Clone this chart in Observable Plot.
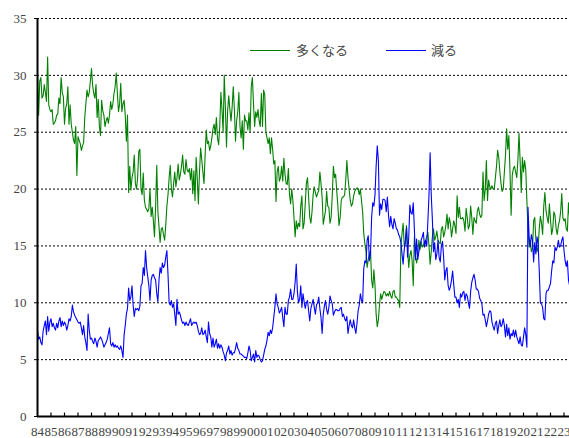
<!DOCTYPE html>
<html><head><meta charset="utf-8">
<script src="https://cdn.jsdelivr.net/npm/d3@7"></script>
<script src="https://cdn.jsdelivr.net/npm/@observablehq/plot@0.6"></script>
<style>
html,body{margin:0;padding:0;background:#fff;overflow:hidden;}
#wrap{position:relative;width:569px;height:438px;overflow:hidden;}
.leg{position:absolute;font-family:"Noto Sans CJK JP","Noto Sans",sans-serif;font-size:13px;color:#444;line-height:13px;white-space:nowrap;}
.sw{position:absolute;width:40px;height:0;border-top:1.4px solid;}
</style></head><body><div id="wrap"></div>
<script>
// monthly series starting January 1984
const seriesNames = ["多くなる", "減る"];
const seriesColors = ["#008000", "#0000ff"];
const yearLabels = ["84","85","86","87","88","89","90","91","92","93","94","95","96","97","98","99","00","01","02","03","04","05","06","07","08","09","10","11","12","13","14","15","16","17","18","19","20","21","22","23"];
const yTicks = [0, 5, 10, 15, 20, 25, 30, 35];

const increase = [
30.2,26.5,29.5,29.8,28.0,28.2,29.2,28.5,27.7,31.6,27.4,27.0,
26.8,27.0,25.7,25.8,26.0,26.5,26.6,28.0,27.5,29.8,28.5,28.1,
25.7,27.1,27.5,29.0,25.7,27.4,25.7,25.0,24.3,24.0,25.5,21.2,
24.6,24.3,24.0,23.4,23.8,24.1,26.3,27.5,28.7,28.1,28.5,29.5,
30.6,29.1,28.4,28.0,29.2,26.3,27.9,25.5,24.7,27.8,26.9,26.5,
25.5,26.0,26.3,25.8,26.5,27.7,27.0,27.5,28.4,29.0,30.2,28.4,
26.8,27.5,29.3,26.8,27.5,27.8,26.5,24.2,26.5,19.7,22.0,19.9,
21.0,21.5,23.0,20.5,20.0,21.0,23.3,23.5,20.0,19.5,21.4,19.0,
18.4,18.2,18.0,18.3,20.0,17.6,18.4,17.2,15.8,18.5,22.1,18.0,
16.7,15.3,16.5,16.6,16.0,15.5,16.8,18.5,19.5,21.0,22.1,20.0,
19.3,20.5,21.5,20.2,21.0,22.2,20.8,21.3,22.0,23.0,21.5,21.3,
22.6,21.7,21.5,21.8,20.8,21.8,19.6,21.6,19.0,22.8,21.0,18.7,
21.5,23.6,22.6,21.5,20.5,23.0,25.2,24.0,24.2,23.4,23.8,24.5,
25.3,25.7,24.8,26.3,24.5,23.9,25.5,28.5,27.0,25.0,30.0,27.2,
23.7,26.9,28.2,27.0,26.0,27.2,29.0,27.0,24.2,26.0,26.8,28.5,
25.5,24.5,26.0,23.5,26.5,26.0,26.0,25.2,26.7,25.0,29.0,29.8,
27.5,25.5,26.8,26.3,27.0,26.0,25.5,28.4,25.5,28.7,28.3,25.0,
24.5,24.0,24.5,23.1,24.5,23.5,22.2,22.5,18.9,21.5,22.0,20.7,
21.0,22.0,20.7,22.7,21.3,20.5,20.4,21.8,19.5,18.7,20.0,19.0,
17.5,15.8,17.2,16.5,17.0,16.7,18.5,19.4,16.5,17.0,18.7,20.5,
21.0,19.3,17.5,17.0,18.0,19.5,20.2,19.7,19.3,19.6,19.9,21.5,
20.5,19.3,16.9,17.5,18.1,19.8,18.5,18.4,17.0,17.5,19.4,22.0,
21.0,21.3,19.8,18.5,16.8,17.5,19.0,19.3,19.3,19.5,20.8,22.5,
21.0,20.0,19.0,18.5,18.7,19.4,19.8,20.0,20.1,20.0,19.5,20.0,
19.0,18.0,16.1,15.2,14.5,13.1,13.8,14.3,14.6,12.0,11.3,12.9,
11.5,9.0,7.9,8.5,9.8,10.8,10.3,10.7,11.0,10.9,10.6,10.8,
10.6,11.0,10.6,10.4,11.0,11.1,10.5,10.5,10.3,10.2,9.6,14.9,
16.1,17.0,15.0,15.2,16.8,14.7,13.1,14.2,14.6,13.7,11.5,15.8,
14.0,13.5,14.3,15.5,14.7,15.4,14.9,15.0,15.4,15.5,15.8,16.2,
15.0,13.4,14.5,15.8,16.5,15.5,15.8,16.3,15.5,15.3,15.2,16.5,
16.7,15.8,16.2,16.8,17.8,16.5,17.5,17.0,15.8,16.5,17.2,16.8,
16.1,19.4,17.5,18.4,17.4,17.4,17.5,17.2,16.3,18.3,17.5,16.5,
16.8,18.5,17.5,16.0,17.5,17.2,17.0,18.1,18.4,17.8,17.5,17.7,
21.5,19.0,20.0,22.5,19.0,20.8,20.2,20.0,20.3,20.0,20.0,21.0,
22.0,23.4,22.8,21.5,20.5,19.8,20.0,21.5,23.0,25.3,23.5,24.7,
21.5,17.7,21.2,21.8,22.0,21.5,21.0,22.5,24.9,22.5,19.7,22.8,
21.5,22.5,21.7,19.0,16.4,14.9,15.5,14.5,14.8,17.2,17.5,15.5,
14.5,14.9,16.5,17.6,17.0,16.0,18.5,19.7,18.1,17.5,17.0,18.7,
17.3,16.0,16.5,18.0,17.7,16.5,16.0,16.8,17.2,18.0,19.6,17.5,
17.2,17.4,16.5,16.3,18.8,17.5
];

const decrease = [
7.6,6.8,7.0,6.5,6.3,7.5,8.0,8.4,7.2,8.8,7.5,8.3,
8.6,7.9,8.2,7.8,7.6,8.2,7.8,8.4,8.7,7.9,8.4,8.0,
8.3,8.1,7.6,8.0,8.6,8.4,8.8,9.8,9.2,8.9,8.7,8.5,
8.3,8.2,8.3,7.8,7.2,8.0,7.0,6.5,5.8,9.0,7.6,6.8,
6.9,6.6,6.4,6.9,6.6,6.1,6.7,6.8,7.0,6.8,6.5,6.1,
6.3,6.5,6.8,7.3,7.8,6.4,6.2,6.5,6.1,6.3,6.1,6.2,
6.0,5.9,6.2,5.8,5.2,7.2,8.0,9.0,9.5,11.3,10.2,10.5,
11.5,9.8,8.8,9.5,9.4,9.5,9.3,9.7,11.5,11.7,13.1,12.4,
14.6,13.1,12.3,11.5,10.2,12.0,12.4,12.5,12.2,12.0,10.8,10.1,
12.0,13.1,12.6,13.5,13.1,13.3,14.0,14.6,12.5,10.0,9.8,10.2,
9.6,9.9,9.0,8.0,10.3,9.0,9.2,8.9,8.5,8.2,8.3,8.0,
8.3,8.1,8.0,8.3,8.6,8.0,8.2,8.3,8.2,8.3,8.0,7.5,
7.2,7.3,7.8,7.2,7.3,7.6,7.0,6.5,8.3,7.3,7.0,6.1,
6.9,6.1,6.4,6.8,6.0,6.4,6.0,6.3,6.1,5.7,5.4,4.9,
5.6,5.8,6.2,5.5,5.8,5.4,5.6,5.6,6.0,6.5,6.0,5.8,
5.5,5.5,5.4,5.3,5.2,5.2,5.1,5.6,6.2,5.8,4.9,5.2,
5.5,4.8,5.8,5.2,5.4,5.3,5.0,4.8,4.9,5.4,5.9,6.2,
6.7,7.4,7.1,7.6,7.3,7.8,8.7,9.6,10.8,9.9,9.6,9.1,
9.3,9.6,8.7,7.9,9.6,9.0,9.0,10.2,10.5,11.2,10.3,10.3,
10.8,11.8,13.4,11.0,10.0,10.3,11.5,9.6,10.8,10.1,9.5,10.0,
10.2,9.3,8.4,9.5,9.9,10.3,9.6,9.0,9.8,10.0,10.5,9.5,
8.7,7.3,9.0,9.7,10.2,9.4,9.0,9.6,10.6,10.2,9.9,8.9,
9.2,9.4,9.4,9.3,9.3,9.5,9.6,8.8,9.0,8.6,8.4,8.8,
7.3,8.0,8.5,8.0,7.8,8.5,7.8,7.3,8.2,9.3,9.8,10.8,
10.2,10.0,13.0,13.7,13.5,15.5,15.9,13.7,14.3,17.5,18.8,18.5,
19.5,22.0,23.8,22.5,17.7,18.7,18.2,19.1,19.1,19.0,18.0,19.3,
17.7,16.7,17.6,16.9,16.5,17.4,17.0,16.5,16.4,16.0,15.8,15.3,
14.3,13.4,14.7,15.5,16.6,14.0,15.8,18.6,17.9,17.8,18.8,16.5,
13.8,15.6,13.8,14.5,15.0,15.5,15.8,16.2,14.9,15.5,15.0,17.2,
19.5,23.2,19.5,17.3,14.5,15.3,13.8,14.3,15.5,14.0,13.6,15.0,
15.4,14.0,12.0,12.8,13.1,11.5,11.1,11.4,12.0,12.8,11.6,10.5,
10.5,10.0,10.3,9.6,10.8,10.5,10.9,11.0,10.2,10.8,10.6,10.0,
9.5,11.0,11.8,12.2,12.5,12.0,11.2,11.2,11.0,10.4,10.2,9.9,
8.9,9.0,8.5,7.9,8.4,9.0,9.3,9.2,8.3,7.9,7.6,8.2,
8.4,7.3,8.0,8.5,7.9,8.1,8.6,8.0,7.0,8.1,7.1,7.8,
6.8,7.3,7.1,7.6,7.0,7.6,7.0,6.7,6.4,7.0,6.3,6.2,
7.0,7.8,7.2,6.1,18.4,15.8,14.9,16.0,15.5,13.6,15.3,14.3,
15.8,15.2,12.8,10.0,9.9,9.6,8.6,8.5,10.8,11.1,11.1,11.4,
11.7,12.8,13.7,13.5,14.9,14.6,14.9,15.5,14.9,15.0,15.5,15.8,
14.6,13.7,13.2,13.7,12.0,11.5
];

const rowsInc = increase.map((v, i) => ({m: i, v}));
const rowsDec = decrease.map((v, i) => ({m: i, v}));
const yearTicks = yearLabels.map((_, i) => i * 12);

const chart = Plot.plot({
  width: 569,
  height: 438,
  marginLeft: 37,
  marginRight: 0,
  marginTop: 18,
  marginBottom: 22,
  style: {fontFamily: '"Liberation Serif", "DejaVu Serif", serif', fontSize: "13px", color: "#444", background: "#fff"},
  x: {domain: [0, 480], range: [37, 577], axis: null, label: null},
  y: {domain: [0, 35], range: [416, 18], axis: null, label: null},
  marks: [
    Plot.ruleY(yTicks.filter(d => d > 0), {x1: 0, x2: 480, stroke: "#000", strokeWidth: 1, strokeDasharray: "2,2"}),
    Plot.axisY(yTicks, {tickSize: 3, tickPadding: 8, stroke: "#000", fill: "#444", fontSize: 13, label: null}),
    Plot.line(rowsInc, {x: "m", y: "v", stroke: seriesColors[0], strokeWidth: 1.1}),
    Plot.line(rowsDec, {x: "m", y: "v", stroke: seriesColors[1], strokeWidth: 1.1}),
    Plot.ruleX(yearTicks.slice(1), {y1: 0, y2: 0.3, stroke: "#000", strokeWidth: 1.2}),
    Plot.ruleX([0], {y1: 0, y2: 35, stroke: "#000", strokeWidth: 2}),
    Plot.ruleY([0], {x1: 0, x2: 480, stroke: "#000", strokeWidth: 2.2}),
    Plot.axisX(yearTicks, {tickSize: 0, tickPadding: 10, fill: "#444", fontSize: 13, label: null, tickFormat: d => yearLabels[d / 12]})
  ]
});

const wrap = document.getElementById("wrap");
wrap.appendChild(chart);

// legend (inside the plot area)
const legendPos = [{sx: 250, tx: 296}, {sx: 386, tx: 431}];
seriesNames.forEach((name, i) => {
  const sw = document.createElement("div");
  sw.className = "sw";
  sw.style.left = legendPos[i].sx + "px";
  sw.style.top = "50px";
  sw.style.borderTopColor = seriesColors[i];
  wrap.appendChild(sw);
  const t = document.createElement("div");
  t.className = "leg";
  t.style.left = legendPos[i].tx + "px";
  t.style.top = "43px";
  t.textContent = name;
  wrap.appendChild(t);
});
</script>
</body></html>
